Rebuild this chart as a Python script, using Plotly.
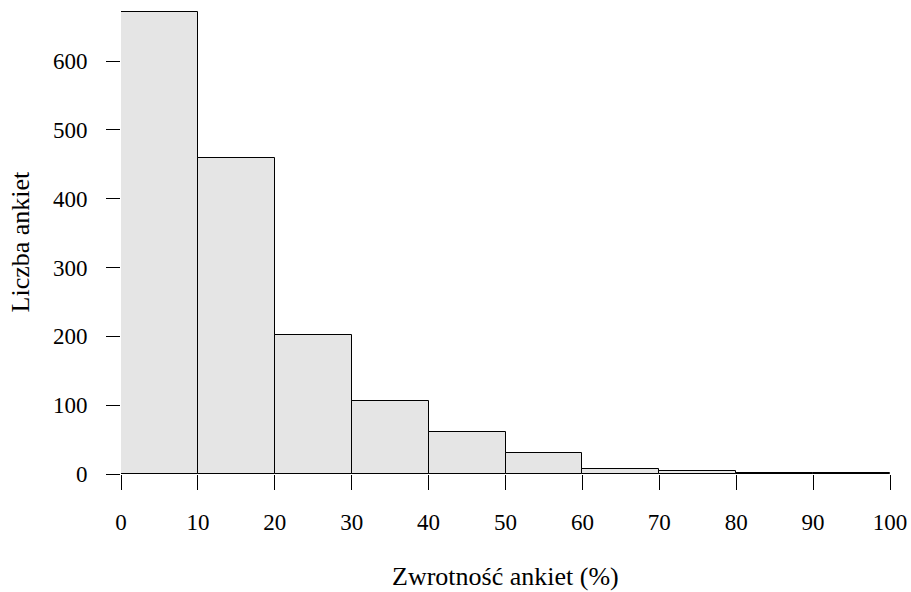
import plotly.graph_objects as go

# Histogram of survey response rates, 10-point bins
bin_edges = [0, 10, 20, 30, 40, 50, 60, 70, 80, 90, 100]
counts = [672, 459, 202, 106, 61, 31, 7, 4, 1, 2]
x_ticks = [0, 10, 20, 30, 40, 50, 60, 70, 80, 90, 100]
y_ticks = [0, 100, 200, 300, 400, 500, 600]

x_title = "Zwrotność ankiet (%)"
y_title = "Liczba ankiet"

mids = [(a + b) / 2 for a, b in zip(bin_edges[:-1], bin_edges[1:])]
widths = [b - a for a, b in zip(bin_edges[:-1], bin_edges[1:])]

FONT = "Liberation Serif, Times New Roman, serif"

fig = go.Figure(
    go.Bar(
        x=mids,
        y=counts,
        width=widths,
        marker=dict(color="#e5e5e5", line=dict(color="#000000", width=1)),
        hoverinfo="skip",
    )
)

fig.update_layout(
    width=911,
    height=592,
    margin=dict(l=121, r=21, t=6, b=118, autoexpand=False),
    paper_bgcolor="white",
    plot_bgcolor="white",
    bargap=0,
    showlegend=False,
    font=dict(family=FONT, size=23, color="#000000"),
    xaxis=dict(
        range=[0, 100],
        tickmode="array",
        tickvals=x_ticks,
        ticktext=[str(v) for v in x_ticks],
        ticks="outside",
        ticklen=15,
        tickwidth=1,
        tickcolor="#000000",
        showgrid=False,
        zeroline=False,
        showline=False,
        automargin=False,
        ticklabelstandoff=12,
    ),
    yaxis=dict(
        range=[0, 680],
        tickmode="array",
        tickvals=y_ticks,
        ticktext=[str(v) for v in y_ticks],
        ticks="outside",
        ticklen=14,
        tickwidth=1,
        tickcolor="#000000",
        showgrid=False,
        zeroline=False,
        showline=False,
        automargin=False,
        ticklabelstandoff=14,
    ),
    annotations=[
        dict(
            text=x_title,
            xref="paper", yref="paper",
            x=0.5, y=-0.218,
            xanchor="center", yanchor="middle",
            showarrow=False,
            font=dict(family=FONT, size=26),
        ),
        dict(
            text=y_title,
            xref="paper", yref="paper",
            x=-0.1313, y=0.497,
            xanchor="center", yanchor="middle",
            textangle=-90,
            showarrow=False,
            font=dict(family=FONT, size=26),
        ),
    ],
)

fig.write_html("out.html")
